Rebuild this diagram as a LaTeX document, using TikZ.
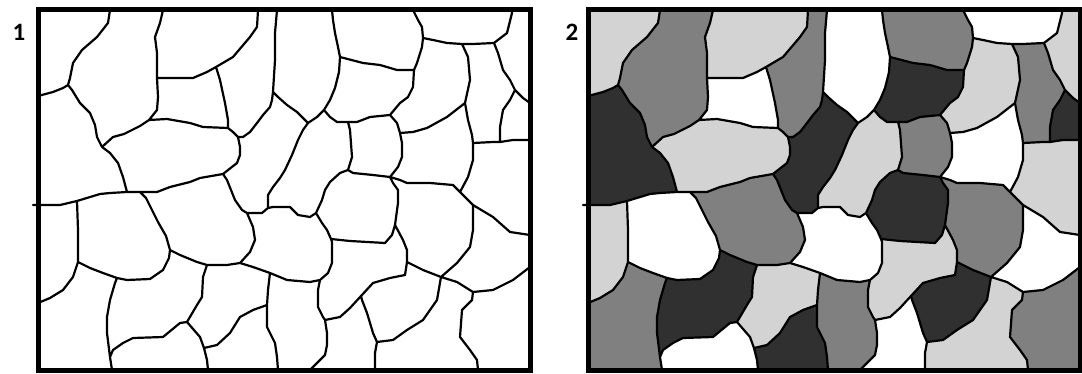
\documentclass[tikz,border=0pt]{standalone}
\usepackage{fontspec}
\newfontfamily\labfont{Carlito}
\definecolor{lg}{HTML}{D3D3D3}
\definecolor{mg}{HTML}{808080}
\definecolor{dk}{HTML}{303030}
\tikzset{
  edge/.style={line width=2.2pt, line join=round, line cap=round},
  frameline/.style={line width=5pt},
  lab/.style={font=\labfont\bfseries\fontsize{25}{30}\selectfont, inner sep=0pt}
}
\newcommand\mapedges{%
\draw[edge]
 (110,10) -- (108,23) -- (97,37) -- (82,50) -- (73,63) -- (70,78) -- (68,85)
 (68,85) -- (63,88) -- (53,92) -- (38,96)
 (68,85) -- (72,90) -- (80,103) -- (90,113) -- (95,125) -- (97,137) -- (102,147)
 (102,147) -- (110,153) -- (118,163) -- (123,177) -- (127,192)
 (102,147) -- (113,137) -- (124,134) -- (140,126) -- (149,120)
 (163,10) -- (160,23) -- (155,37) -- (157,53) -- (157,78)
 (157,78) -- (158,97) -- (157,110) -- (149,120)
 (157,78) -- (193,78) -- (200,75) -- (207,72) -- (216,67)
 (216,67) -- (233,57) -- (250,37) -- (257,27) -- (258,10)
 (216,67) -- (220,80) -- (225,103) -- (228,120) -- (228,128)
 (149,120) -- (167,119) -- (190,123) -- (203,127) -- (228,128)
 (228,128) -- (233,132) -- (238,137)
 (238,137) -- (240,147) -- (240,155) -- (237,163) -- (223,174)
 (238,137) -- (243,137) -- (250,132) -- (257,123) -- (263,115) -- (270,107) -- (272,100) -- (273,92)
 (273,92) -- (275,60) -- (275,33) -- (277,10)
 (273,92) -- (278,97) -- (287,105) -- (297,112) -- (305,120) -- (308,123)
 (308,123) -- (303,130) -- (298,140) -- (292,155) -- (285,170) -- (280,178) -- (273,187) -- (268,195) -- (268,208)
 (308,123) -- (317,117) -- (324,110)
 (324,110) -- (330,100) -- (335,88) -- (339,72) -- (340,57)
 (340,57) -- (338,47) -- (335,33) -- (333,20) -- (332,10)
 (340,57) -- (363,63) -- (380,65) -- (397,70) -- (414,70)
 (324,110) -- (330,117) -- (337,122) -- (348,122)
 (348,122) -- (357,122) -- (370,117) -- (390,115)
 (413,10) -- (418,20) -- (422,27) -- (423,38)
 (423,38) -- (422,47) -- (417,63) -- (414,70)
 (414,70) -- (413,87) -- (408,97) -- (400,103) -- (390,115)
 (423,38) -- (433,40) -- (447,43) -- (462,44)
 (462,44) -- (473,44) -- (494,43)
 (494,43) -- (507,33) -- (512,13) -- (512,10)
 (494,43) -- (498,53) -- (503,70) -- (510,80) -- (515,90)
 (515,90) -- (523,98) -- (530,103)
 (515,90) -- (510,100) -- (503,110) -- (500,127) -- (500,142)
 (500,142) -- (513,140) -- (530,140)
 (473,143) -- (493,142) -- (500,142)
 (462,44) -- (468,57) -- (470,80) -- (465,103)
 (465,103) -- (468,120) -- (472,135) -- (473,143)
 (465,103) -- (447,117) -- (427,128) -- (413,132) -- (400,133)
 (390,115) -- (397,123) -- (400,133)
 (400,133) -- (402,143) -- (402,157) -- (398,167) -- (390,177)
 (348,122) -- (350,130) -- (352,157) -- (348,170)
 (348,170) -- (353,173) -- (373,175) -- (390,177)
 (348,170) -- (340,173) -- (330,182) -- (325,190) -- (322,200) -- (316,213)
 (390,177) -- (400,180) -- (407,183) -- (430,183) -- (453,185) -- (460,192)
 (473,143) -- (473,160) -- (468,177) -- (460,192)
 (460,192) -- (473,205)
 (473,205) -- (493,217) -- (510,232) -- (530,235)
 (473,205) -- (473,230) -- (470,247) -- (457,263) -- (441,277)
 (390,177) -- (393,183) -- (398,190) -- (398,203) -- (395,225)
 (395,225) -- (403,240) -- (407,250) -- (407,262)
 (407,262) -- (405,275) -- (390,278) -- (373,283) -- (361,296)
 (407,262) -- (423,270) -- (441,277)
 (441,277) -- (457,282) -- (473,292)
 (473,292) -- (493,290) -- (513,280) -- (530,267)
 (473,292) -- (472,300) -- (462,310) -- (460,337) -- (470,350) -- (477,360) -- (478,370)
 (441,277) -- (437,300) -- (423,320) -- (407,330) -- (393,340) -- (377,342)
 (361,296) -- (362,300) -- (367,313) -- (373,333) -- (377,342)
 (377,342) -- (375,353) -- (375,370)
 (361,296) -- (350,308) -- (340,317) -- (325,320)
 (320,280) -- (318,290) -- (318,307) -- (323,317) -- (325,320)
 (325,320) -- (327,333) -- (327,345) -- (325,355) -- (318,362) -- (310,370)
 (331,239) -- (332,242) -- (332,263) -- (328,273) -- (320,280)
 (316,213) -- (322,223) -- (327,230) -- (331,239)
 (331,239) -- (350,241) -- (385,243) -- (392,235) -- (395,225)
 (268,208) -- (273,207) -- (290,207) -- (298,215) -- (310,217) -- (316,213)
 (247,213) -- (262,213) -- (268,208)
 (223,174) -- (227,180) -- (235,200) -- (242,210) -- (247,213)
 (247,213) -- (253,227) -- (255,240) -- (250,252) -- (240,263)
 (240,263) -- (253,267) -- (270,273)
 (270,273) -- (287,280) -- (310,282) -- (320,280)
 (270,273) -- (268,290) -- (267,305)
 (267,305) -- (267,327) -- (275,343) -- (277,357) -- (278,370)
 (267,305) -- (253,310) -- (240,317) -- (230,333) -- (217,345) -- (204,348)
 (204,348) -- (207,360) -- (208,370)
 (187,322) -- (200,337) -- (204,348)
 (207,265) -- (203,277) -- (202,297) -- (197,305) -- (187,322)
 (187,322) -- (180,323) -- (163,337) -- (133,338) -- (123,343) -- (113,350) -- (110,357)
 (110,357) -- (112,370)
 (117,278) -- (115,283) -- (110,300) -- (107,317) -- (107,333) -- (110,357)
 (78,262) -- (90,268) -- (103,273) -- (117,278)
 (117,278) -- (127,280) -- (150,279) -- (163,270) -- (169,258) -- (170,250)
 (140,192) -- (146,198) -- (151,208) -- (158,222) -- (166,236) -- (170,250)
 (170,250) -- (180,255) -- (197,262) -- (207,265)
 (207,265) -- (227,265) -- (240,263)
 (77,201) -- (78,230) -- (78,262)
 (78,262) -- (73,277) -- (63,290) -- (50,298) -- (38,303)
 (33,205) -- (60,205) -- (77,201)
 (77,201) -- (100,194) -- (110,193) -- (127,192)
 (127,192) -- (140,192)
 (140,192) -- (157,192) -- (170,187) -- (190,182) -- (200,178) -- (223,174);
\draw[frameline] (38,10) rectangle (530,370.5);
}
\begin{document}
\begin{tikzpicture}[x=1pt,y=-1pt]
\useasboundingbox (0,0) rectangle (1082,374);
\fill[white] (0,0) rectangle (1082,374);
\node[lab] (lab1) at (19,32) {1};
\node[lab] (lab2) at (572,32) {2};
% left panel
\mapedges
% right panel
\begin{scope}[xshift=550pt]
% R1
\fill[lg] (38,10) -- (110,10) -- (108,23) -- (97,37) -- (82,50) -- (73,63) -- (70,78) -- (68,85) -- (63,88) -- (53,92) -- (38,96) -- cycle;
% R2
\fill[mg] (110,10) -- (163,10) -- (160,23) -- (155,37) -- (157,53) -- (157,78) -- (158,97) -- (157,110) -- (149,120) -- (140,126) -- (124,134) -- (113,137) -- (102,147) -- (97,137) -- (95,125) -- (90,113) -- (80,103) -- (72,90) -- (68,85) -- (70,78) -- (73,63) -- (82,50) -- (97,37) -- (108,23) -- cycle;
% R3
\fill[dk] (38,96) -- (53,92) -- (63,88) -- (68,85) -- (72,90) -- (80,103) -- (90,113) -- (95,125) -- (97,137) -- (102,147) -- (110,153) -- (118,163) -- (123,177) -- (127,192) -- (110,193) -- (100,194) -- (77,201) -- (60,205) -- (38,205) -- cycle;
% R4
\fill[lg] (163,10) -- (258,10) -- (257,27) -- (250,37) -- (233,57) -- (216,67) -- (207,72) -- (200,75) -- (193,78) -- (157,78) -- (157,53) -- (155,37) -- (160,23) -- cycle;
% R6
\fill[lg] (149,120) -- (167,119) -- (190,123) -- (203,127) -- (228,128) -- (233,132) -- (238,137) -- (240,147) -- (240,155) -- (237,163) -- (223,174) -- (200,178) -- (190,182) -- (170,187) -- (157,192) -- (140,192) -- (127,192) -- (123,177) -- (118,163) -- (110,153) -- (102,147) -- (113,137) -- (124,134) -- (140,126) -- cycle;
% R7
\fill[mg] (258,10) -- (277,10) -- (275,33) -- (275,60) -- (273,92) -- (272,100) -- (270,107) -- (263,115) -- (257,123) -- (250,132) -- (243,137) -- (238,137) -- (233,132) -- (228,128) -- (228,120) -- (225,103) -- (220,80) -- (216,67) -- (233,57) -- (250,37) -- (257,27) -- cycle;
% R9
\fill[dk] (238,137) -- (243,137) -- (250,132) -- (257,123) -- (263,115) -- (270,107) -- (272,100) -- (273,92) -- (278,97) -- (287,105) -- (297,112) -- (305,120) -- (308,123) -- (303,130) -- (298,140) -- (292,155) -- (285,170) -- (280,178) -- (273,187) -- (268,195) -- (268,208) -- (262,213) -- (247,213) -- (242,210) -- (235,200) -- (227,180) -- (223,174) -- (237,163) -- (240,155) -- (240,147) -- cycle;
% R10
\fill[lg] (308,123) -- (317,117) -- (324,110) -- (330,117) -- (337,122) -- (348,122) -- (350,130) -- (352,157) -- (348,170) -- (340,173) -- (330,182) -- (325,190) -- (322,200) -- (316,213) -- (310,217) -- (298,215) -- (290,207) -- (273,207) -- (268,208) -- (268,195) -- (273,187) -- (280,178) -- (285,170) -- (292,155) -- (298,140) -- (303,130) -- cycle;
% R11
\fill[mg] (348,122) -- (357,122) -- (370,117) -- (390,115) -- (397,123) -- (400,133) -- (402,143) -- (402,157) -- (398,167) -- (390,177) -- (373,175) -- (353,173) -- (348,170) -- (352,157) -- (350,130) -- cycle;
% R12
\fill[dk] (340,57) -- (363,63) -- (380,65) -- (397,70) -- (414,70) -- (413,87) -- (408,97) -- (400,103) -- (390,115) -- (370,117) -- (357,122) -- (348,122) -- (337,122) -- (330,117) -- (324,110) -- (330,100) -- (335,88) -- (339,72) -- cycle;
% R13
\fill[mg] (332,10) -- (413,10) -- (418,20) -- (422,27) -- (423,38) -- (422,47) -- (417,63) -- (414,70) -- (397,70) -- (380,65) -- (363,63) -- (340,57) -- (338,47) -- (335,33) -- (333,20) -- cycle;
% R15
\fill[lg] (512,10) -- (530,10) -- (530,103) -- (523,98) -- (515,90) -- (510,80) -- (503,70) -- (498,53) -- (494,43) -- (507,33) -- (512,13) -- cycle;
% R16
\fill[lg] (423,38) -- (433,40) -- (447,43) -- (462,44) -- (468,57) -- (470,80) -- (465,103) -- (447,117) -- (427,128) -- (413,132) -- (400,133) -- (397,123) -- (390,115) -- (400,103) -- (408,97) -- (413,87) -- (414,70) -- (417,63) -- (422,47) -- cycle;
% R17
\fill[mg] (462,44) -- (473,44) -- (494,43) -- (498,53) -- (503,70) -- (510,80) -- (515,90) -- (510,100) -- (503,110) -- (500,127) -- (500,142) -- (493,142) -- (473,143) -- (472,135) -- (468,120) -- (465,103) -- (470,80) -- (468,57) -- cycle;
% R18
\fill[dk] (515,90) -- (523,98) -- (530,103) -- (530,140) -- (513,140) -- (500,142) -- (500,127) -- (503,110) -- (510,100) -- cycle;
% R20
\fill[lg] (500,142) -- (513,140) -- (530,140) -- (530,235) -- (510,232) -- (493,217) -- (473,205) -- (460,192) -- (468,177) -- (473,160) -- (473,143) -- (493,142) -- cycle;
% R21
\fill[mg] (390,177) -- (400,180) -- (407,183) -- (430,183) -- (453,185) -- (460,192) -- (473,205) -- (473,230) -- (470,247) -- (457,263) -- (441,277) -- (423,270) -- (407,262) -- (407,250) -- (403,240) -- (395,225) -- (398,203) -- (398,190) -- (393,183) -- cycle;
% R23
\fill[dk] (316,213) -- (322,223) -- (327,230) -- (331,239) -- (350,241) -- (385,243) -- (392,235) -- (395,225) -- (398,203) -- (398,190) -- (393,183) -- (390,177) -- (373,175) -- (353,173) -- (348,170) -- (340,173) -- (330,182) -- (325,190) -- (322,200) -- cycle;
% R25
\fill[lg] (331,239) -- (350,241) -- (385,243) -- (392,235) -- (395,225) -- (403,240) -- (407,250) -- (407,262) -- (405,275) -- (390,278) -- (373,283) -- (361,296) -- (350,308) -- (340,317) -- (325,320) -- (323,317) -- (318,307) -- (318,290) -- (320,280) -- (328,273) -- (332,263) -- (332,242) -- cycle;
% R26
\fill[dk] (407,262) -- (423,270) -- (441,277) -- (437,300) -- (423,320) -- (407,330) -- (393,340) -- (377,342) -- (373,333) -- (367,313) -- (362,300) -- (361,296) -- (373,283) -- (390,278) -- (405,275) -- cycle;
% R27
\fill[mg] (473,292) -- (493,290) -- (513,280) -- (530,267) -- (530,370) -- (478,370) -- (477,360) -- (470,350) -- (460,337) -- (462,310) -- (472,300) -- cycle;
% R28
\fill[lg] (441,277) -- (457,282) -- (473,292) -- (472,300) -- (462,310) -- (460,337) -- (470,350) -- (477,360) -- (478,370) -- (375,370) -- (375,353) -- (377,342) -- (393,340) -- (407,330) -- (423,320) -- (437,300) -- cycle;
% R30
\fill[mg] (270,273) -- (287,280) -- (310,282) -- (320,280) -- (318,290) -- (318,307) -- (323,317) -- (325,320) -- (327,333) -- (327,345) -- (325,355) -- (318,362) -- (310,370) -- (278,370) -- (277,357) -- (275,343) -- (267,327) -- (267,305) -- (268,290) -- cycle;
% R31
\fill[lg] (240,263) -- (253,267) -- (270,273) -- (268,290) -- (267,305) -- (253,310) -- (240,317) -- (230,333) -- (217,345) -- (204,348) -- (200,337) -- (187,322) -- (197,305) -- (202,297) -- (203,277) -- (207,265) -- (227,265) -- cycle;
% R32
\fill[dk] (204,348) -- (217,345) -- (230,333) -- (240,317) -- (253,310) -- (267,305) -- (267,327) -- (275,343) -- (277,357) -- (278,370) -- (208,370) -- (207,360) -- cycle;
% R33
\fill[dk] (117,278) -- (127,280) -- (150,279) -- (163,270) -- (169,258) -- (170,250) -- (180,255) -- (197,262) -- (207,265) -- (203,277) -- (202,297) -- (197,305) -- (187,322) -- (180,323) -- (163,337) -- (133,338) -- (123,343) -- (113,350) -- (110,357) -- (107,333) -- (107,317) -- (110,300) -- (115,283) -- cycle;
% R35
\fill[mg] (78,262) -- (90,268) -- (103,273) -- (117,278) -- (115,283) -- (110,300) -- (107,317) -- (107,333) -- (110,357) -- (112,370) -- (38,370) -- (38,303) -- (50,298) -- (63,290) -- (73,277) -- cycle;
% R36
\fill[lg] (38,205) -- (60,205) -- (77,201) -- (78,230) -- (78,262) -- (73,277) -- (63,290) -- (50,298) -- (38,303) -- cycle;
% R38
\fill[mg] (140,192) -- (157,192) -- (170,187) -- (190,182) -- (200,178) -- (223,174) -- (227,180) -- (235,200) -- (242,210) -- (247,213) -- (253,227) -- (255,240) -- (250,252) -- (240,263) -- (227,265) -- (207,265) -- (197,262) -- (180,255) -- (170,250) -- (166,236) -- (158,222) -- (151,208) -- (146,198) -- cycle;
\mapedges
\end{scope}
\end{tikzpicture}
\end{document}
